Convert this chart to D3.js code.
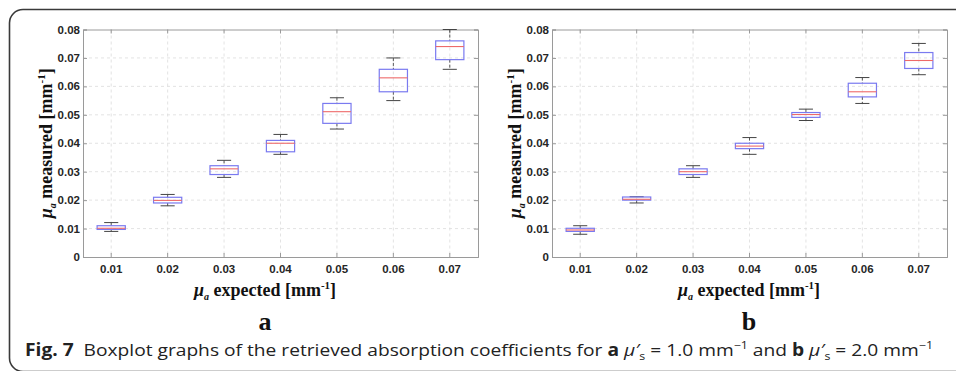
<!DOCTYPE html>
<html><head><meta charset="utf-8">
<script src="https://cdn.jsdelivr.net/npm/d3@7"></script>
<style>body{margin:0;background:#fff}svg{display:block}</style>
</head><body>
<svg id="c" width="956" height="371"></svg>
<script>
const categories = ["0.01","0.02","0.03","0.04","0.05","0.06","0.07"];
const yTicks = [0,0.01,0.02,0.03,0.04,0.05,0.06,0.07,0.08];
const yTickLabels = ["0","0.01","0.02","0.03","0.04","0.05","0.06","0.07","0.08"];

// panel a (mu_s' = 1.0 mm^-1)
const aUpper  = [0.0121,0.0220,0.0340,0.0431,0.0560,0.0700,0.0800];
const aQ3     = [0.0110,0.0210,0.0321,0.0410,0.0540,0.0660,0.0760];
const aMedian = [0.0101,0.0199,0.0310,0.0400,0.0511,0.0630,0.0740];
const aQ1     = [0.0097,0.0190,0.0290,0.0370,0.0470,0.0581,0.0694];
const aLower  = [0.0090,0.0180,0.0280,0.0361,0.0450,0.0550,0.0660];

// panel b (mu_s' = 2.0 mm^-1)
const bUpper  = [0.0110,0.0212,0.0321,0.0420,0.0520,0.0631,0.0751];
const bQ3     = [0.0101,0.0211,0.0310,0.0400,0.0508,0.0611,0.0719];
const bMedian = [0.0095,0.0203,0.0300,0.0390,0.0501,0.0581,0.0691];
const bQ1     = [0.0090,0.0200,0.0290,0.0381,0.0491,0.0563,0.0663];
const bLower  = [0.0080,0.0190,0.0280,0.0361,0.0480,0.0540,0.0641];

const svg = d3.select("#c");

// outer frame
svg.append("path")
  .attr("d","M957,9.5 H23 A13.5,13.5 0 0 0 9.5,23 V358 A13.5,13.5 0 0 0 23,371.5 H957")
  .attr("fill","none").attr("stroke","#3a3a3a").attr("stroke-width",1.6);

function panel(x0, x1, letter, letterX, up, q3, med, q1, lo){
  const top = 29.5, bottom = 257;
  const x = d3.scaleBand().domain(categories).range([x0,x1]).padding(0);
  const y = d3.scaleLinear().domain([0,0.08]).range([bottom,top]);
  const g = svg.append("g");
  const bw = x.bandwidth();
  const cx = d => x(d)+bw/2;

  // grid
  g.append("g").selectAll("line").data(categories).join("line")
    .attr("x1",d=>cx(d)).attr("x2",d=>cx(d)).attr("y1",top).attr("y2",bottom)
    .attr("stroke","#dcdcdc").attr("stroke-dasharray","3,3").attr("stroke-width",0.8);
  g.append("g").selectAll("line").data(yTicks.slice(1,-1)).join("line")
    .attr("x1",x0).attr("x2",x1).attr("y1",d=>y(d)).attr("y2",d=>y(d))
    .attr("stroke","#dcdcdc").attr("stroke-dasharray","3,3").attr("stroke-width",0.8);

  // axes
  const axL = g.append("g").attr("transform",`translate(${x0},0)`)
    .call(d3.axisRight(y).tickValues(yTicks).tickSize(4).tickFormat(""));
  const axR = g.append("g").attr("transform",`translate(${x1},0)`)
    .call(d3.axisLeft(y).tickValues(yTicks).tickSize(4).tickFormat(""));
  const axB = g.append("g").attr("transform",`translate(0,${bottom})`)
    .call(d3.axisTop(x).tickSize(4).tickFormat(""));
  const axT = g.append("g").attr("transform",`translate(0,${top})`)
    .call(d3.axisBottom(x).tickSize(4).tickFormat(""));
  [axL,axR,axB,axT].forEach(a=>{
    a.selectAll("path,line").attr("stroke","#9a9a9a").attr("stroke-width",1);
  });

  // tick labels
  g.append("g").selectAll("text").data(yTicks).join("text")
    .attr("x",x0-3).attr("y",d=>y(d)+4)
    .attr("text-anchor","end")
    .attr("font-family","Liberation Sans, Arial, sans-serif").attr("font-weight","bold")
    .attr("font-size",11.5).attr("fill","#262626")
    .text((d,i)=>yTickLabels[i]);
  g.append("g").selectAll("text").data(categories).join("text")
    .attr("x",d=>cx(d)).attr("y",bottom+16)
    .attr("text-anchor","middle")
    .attr("font-family","Liberation Sans, Arial, sans-serif").attr("font-weight","bold")
    .attr("font-size",11.5).attr("fill","#262626")
    .text(d=>d);

  // boxes
  const data = categories.map((c,i)=>({c,up:up[i],q3:q3[i],med:med[i],q1:q1[i],lo:lo[i]}));
  const bx = g.append("g").selectAll("g").data(data).join("g");
  const boxW = bw*0.5, capW = bw*0.25;
  bx.append("line").attr("x1",d=>cx(d.c)).attr("x2",d=>cx(d.c))
    .attr("y1",d=>y(d.up)).attr("y2",d=>y(d.q3))
    .attr("stroke","#444").attr("stroke-dasharray","3,2").attr("stroke-width",0.9);
  bx.append("line").attr("x1",d=>cx(d.c)).attr("x2",d=>cx(d.c))
    .attr("y1",d=>y(d.q1)).attr("y2",d=>y(d.lo))
    .attr("stroke","#444").attr("stroke-dasharray","3,2").attr("stroke-width",0.9);
  bx.append("line").attr("x1",d=>cx(d.c)-capW/2).attr("x2",d=>cx(d.c)+capW/2)
    .attr("y1",d=>y(d.up)).attr("y2",d=>y(d.up)).attr("stroke","#444").attr("stroke-width",1);
  bx.append("line").attr("x1",d=>cx(d.c)-capW/2).attr("x2",d=>cx(d.c)+capW/2)
    .attr("y1",d=>y(d.lo)).attr("y2",d=>y(d.lo)).attr("stroke","#444").attr("stroke-width",1);
  bx.append("rect").attr("x",d=>cx(d.c)-boxW/2).attr("width",boxW)
    .attr("y",d=>y(d.q3)).attr("height",d=>y(d.q1)-y(d.q3))
    .attr("fill","none").attr("stroke","#7a7af0").attr("stroke-width",1.2);
  bx.append("line").attr("x1",d=>cx(d.c)-boxW/2).attr("x2",d=>cx(d.c)+boxW/2)
    .attr("y1",d=>y(d.med)).attr("y2",d=>y(d.med)).attr("stroke","#ee6a6a").attr("stroke-width",1.1);

  // axis titles
  const yl = g.append("text")
    .attr("transform",`translate(${x0-31},${(top+bottom)/2}) rotate(-90)`)
    .attr("text-anchor","middle")
    .attr("font-family","Liberation Serif, Times New Roman, serif").attr("font-weight","bold")
    .attr("font-size",18).attr("fill","#111");
  yl.append("tspan").attr("font-style","italic").text("μ");
  yl.append("tspan").attr("font-style","italic").attr("font-size",10).attr("dy",4).text("a");
  yl.append("tspan").attr("dy",-4).text(" measured [mm");
  yl.append("tspan").attr("font-size",11).attr("dy",-7).text("-1");
  yl.append("tspan").attr("dy",7).text("]");

  const xl = g.append("text")
    .attr("x",letterX).attr("y",296)
    .attr("text-anchor","middle")
    .attr("font-family","Liberation Serif, Times New Roman, serif").attr("font-weight","bold")
    .attr("font-size",18).attr("fill","#111");
  xl.append("tspan").attr("font-style","italic").text("μ");
  xl.append("tspan").attr("font-style","italic").attr("font-size",10).attr("dy",4).text("a");
  xl.append("tspan").attr("dy",-4).text(" expected [mm");
  xl.append("tspan").attr("font-size",11).attr("dy",-7).text("-1");
  xl.append("tspan").attr("dy",7).text("]");

  g.append("text").attr("x",letterX).attr("y",330).attr("text-anchor","middle")
    .attr("font-family","Liberation Serif, Times New Roman, serif").attr("font-weight","bold")
    .attr("font-size",26).attr("fill","#111").text(letter);
}

panel(83,478,"a",265,aUpper,aQ3,aMedian,aQ1,aLower);
panel(552,947,"b",749,bUpper,bQ3,bMedian,bQ1,bLower);

// caption
const cap = svg.append("text").attr("x",25).attr("y",356)
  .attr("font-family","Open Sans, Noto Sans, sans-serif").attr("font-size",17).attr("fill","#222")
  .attr("textLength",908).attr("lengthAdjust","spacingAndGlyphs");
cap.append("tspan").attr("font-weight","bold").text("Fig. 7");
cap.append("tspan").text("\u00a0 Boxplot graphs of the retrieved absorption coefficients for ");
cap.append("tspan").attr("font-weight","bold").text("a");
cap.append("tspan").text(" ");
cap.append("tspan").attr("font-style","italic").text("μ′");
cap.append("tspan").attr("font-size",11).attr("dy",4).text("s");
cap.append("tspan").attr("dy",-4).text(" = 1.0 mm");
cap.append("tspan").attr("font-size",11).attr("dy",-7).text("−1");
cap.append("tspan").attr("dy",7).text(" and ");
cap.append("tspan").attr("font-weight","bold").text("b");
cap.append("tspan").text(" ");
cap.append("tspan").attr("font-style","italic").text("μ′");
cap.append("tspan").attr("font-size",11).attr("dy",4).text("s");
cap.append("tspan").attr("dy",-4).text(" = 2.0 mm");
cap.append("tspan").attr("font-size",11).attr("dy",-7).text("−1");
</script>
</body></html>
